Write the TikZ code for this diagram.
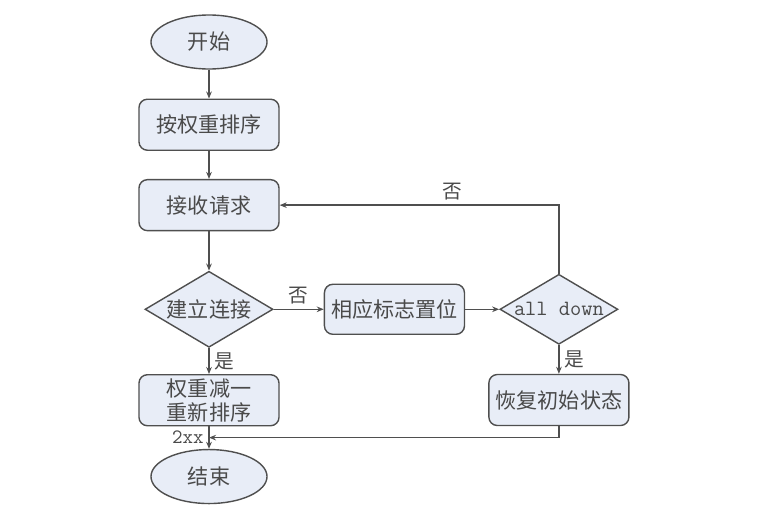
\documentclass[tikz,border=0pt]{standalone}
\usepackage{fontspec}
\newfontfamily\cjk{Noto Sans CJK SC}
\usetikzlibrary{positioning, arrows.meta, shapes.geometric, calc}
\definecolor{boxfill}{HTML}{E8EDF7}
\definecolor{linegray}{HTML}{4F4F4F}
\definecolor{textgray}{HTML}{4A4A4A}

\begin{document}
\begin{tikzpicture}[
			x=0.025cm, y=-0.025cm,
			>={Stealth[length=5pt,width=4pt]},
			termbox/.style={
				ellipse, draw=linegray, fill=boxfill, line width=1pt,
				minimum width=2.9cm, minimum height=1.35cm, inner sep=0pt,
				font=\cjk\fontsize{15}{18}\selectfont, text=textgray
			},
			procbox/.style={
				draw=linegray, fill=boxfill, line width=1pt, rounded corners=6pt,
				minimum width=3.5cm, minimum height=1.275cm, inner sep=2pt, align=center,
				font=\cjk\fontsize{15}{17}\selectfont, text=textgray
			},
			decbox/.style={
				diamond, aspect=1.7, draw=linegray, fill=boxfill, line width=1pt,
				inner sep=0pt, font=\cjk\fontsize{15}{18}\selectfont, text=textgray
			},
			flowline/.style={->, line width=1pt, draw=linegray},
			lbl/.style={font=\cjk\fontsize{14}{16}\selectfont, text=textgray}
			]
			
			\useasboundingbox (0,0) rectangle (769,526);
			
			% 1. MAIN COLUMN (Left)
			\node[termbox] (start) at (209,42) {开始};
			\node[procbox, below=0.72cm of start] (sort) {按权重排序};
			\node[procbox, below=0.7cm of sort] (recv) {接收请求};
			\node[decbox, minimum width=3.2cm, minimum height=1.9cm, below=0.98cm of recv] (conn) {建立连接};
			\node[procbox, below=0.65cm of conn] (dec) {权重减一\\重新排序};
			\node[termbox, below=0.56cm of dec] (end) {结束};
			
			% 2. FAILURE BRANCH (Right)
			\node[procbox, minimum height=1.25cm, right=1.25cm of conn] (flag) {相应标志置位};
			\node[decbox, minimum width=2.95cm, minimum height=1.75cm, right=0.85cm of flag,
				font=\ttfamily\fontsize{15.5}{18}\selectfont] (alldown) {all down};
			\node[procbox, below=0.72cm of alldown] (reset) {恢复初始状态};
			
			\coordinate (merge) at ($(dec.south)!0.5!(end.north)$);
			
			% 3. CONNECTORS
			\draw[flowline] (start) -- (sort);
			\draw[flowline] (sort) -- (recv);
			\draw[flowline] (recv) -- (conn);
			\draw[flowline] (conn) -- (flag) node[midway, above, lbl] {否};
			\draw[flowline] (flag) -- (alldown);
			\draw[flowline] (alldown.north) |- (recv.east) node[pos=0.69, above, lbl] {否};
			\draw[flowline] (conn) -- (dec) node[midway, right, lbl] {是};
			\draw[flowline] (alldown) -- (reset) node[midway, right, lbl] {是};
			\draw[flowline] (dec) -- (end) node[midway, left, font=\ttfamily\fontsize{14.5}{16}\selectfont, text=textgray] {2xx};
			\draw[flowline] (reset.south) |- (merge);
		\end{tikzpicture}
\end{document}
